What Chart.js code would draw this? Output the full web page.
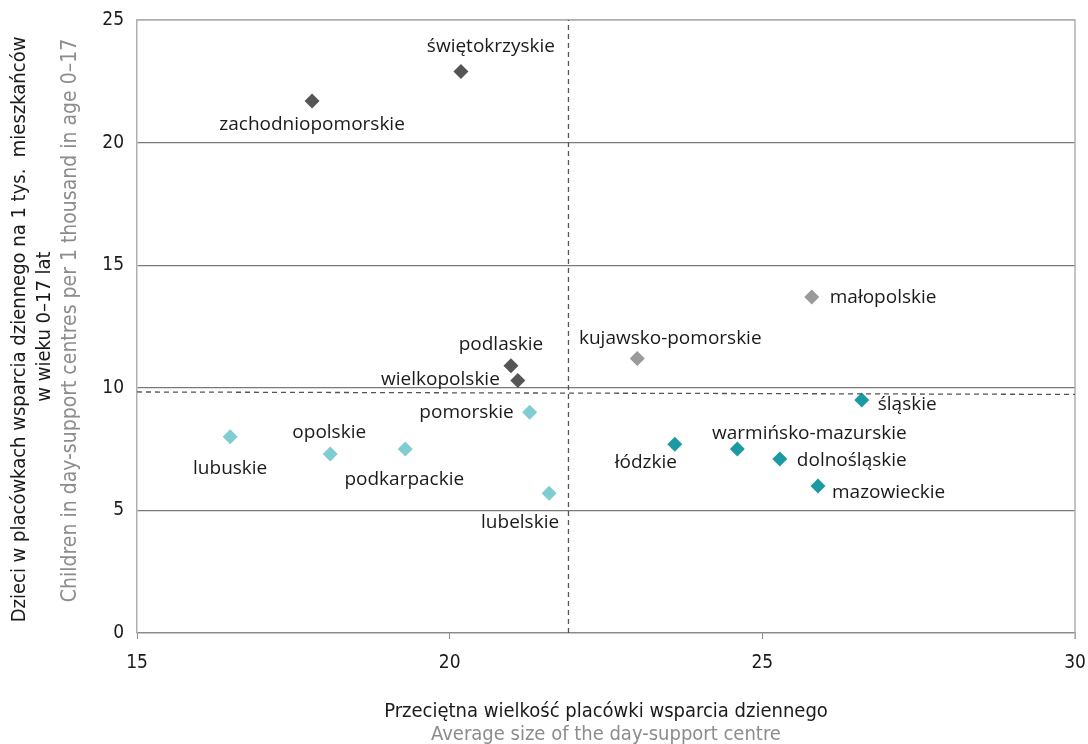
<!DOCTYPE html>
<html lang="pl">
<head>
    <meta charset="UTF-8">
    <title>Placówki wsparcia dziennego</title>
    <script src="https://cdn.jsdelivr.net/npm/chart.js@4.4.0/dist/chart.umd.min.js"></script>
    <style>
        body { margin: 0; background: #fff; }
        #wrap { width: 1088px; height: 744px; position: relative; }
    </style>
</head>
<body>
    <div id="wrap"><canvas id="chart"></canvas></div>

    <script>
        // Województwa i wartości
        const regions = ['świętokrzyskie', 'zachodniopomorskie', 'podlaskie', 'wielkopolskie',
            'małopolskie', 'kujawsko-pomorskie',
            'lubuskie', 'opolskie', 'podkarpackie', 'pomorskie', 'lubelskie',
            'śląskie', 'łódzkie', 'warmińsko-mazurskie', 'dolnośląskie', 'mazowieckie'];
        const avgSize = [20.18, 17.80, 20.98, 21.09,
            25.79, 23.00,
            16.49, 18.09, 19.29, 21.28, 21.59,
            26.59, 23.60, 24.60, 25.28, 25.89];
        const childrenPer1000 = [22.9, 21.7, 10.9, 10.3,
            13.7, 11.2,
            8.0, 7.3, 7.5, 9.0, 5.7,
            9.5, 7.7, 7.5, 7.1, 6.0];
        // grupa (kwadrant) każdego punktu
        const groups = [0, 0, 0, 0, 1, 1, 2, 2, 2, 2, 2, 3, 3, 3, 3, 3];
        const groupColors = ['#555555', '#9a9a9a', '#7fcdd2', '#1b9ba1'];

        // linie średnich
        const meanX = [21.9, 21.9];
        const meanXy = [0, 25];
        const meanYx = [15, 30];
        const meanY = [9.83, 9.73];

        const xTicks = [15, 20, 25, 30];
        const yTicks = [0, 5, 10, 15, 20, 25];

        // położenie etykiet względem punktu: [dx, dy, wyrównanie]
        const labelPlace = [
            [30, -25, 'center'], [0, 24, 'center'], [-10, -21, 'center'], [-18, -1, 'right'],
            [18, 1, 'left'], [33, -20, 'center'],
            [0, 32, 'center'], [-1, -21, 'center'], [-1, 30, 'center'], [-16, 0, 'right'], [-29, 29, 'center'],
            [16, 5, 'left'], [-29, 18, 'center'], [72, -16, 'center'], [17, 2, 'left'], [14, 7, 'left']
        ];

        const labelFont = '19px "Open Sans", "Noto Sans", sans-serif';
        const narrow = '"Liberation Sans Narrow", "DejaVu Sans Condensed", "Open Sans", sans-serif';

        const points = avgSize.map((x, i) => ({ x: x, y: childrenPer1000[i] }));

        const pointLabels = {
            id: 'pointLabels',
            afterDatasetsDraw(chart) {
                const ctx = chart.ctx;
                const meta = chart.getDatasetMeta(2);
                ctx.save();
                ctx.font = labelFont;
                ctx.fillStyle = '#1a1a1a';
                ctx.textBaseline = 'middle';
                meta.data.forEach((el, i) => {
                    const p = labelPlace[i];
                    ctx.textAlign = p[2];
                    ctx.fillText(regions[i], el.x + p[0], el.y + p[1]);
                });
                ctx.restore();
            }
        };

        const frameAndTitles = {
            id: 'frameAndTitles',
            beforeDatasetsDraw(chart) {
                const ctx = chart.ctx;
                const a = chart.chartArea;
                ctx.save();
                ctx.strokeStyle = '#b0b0b0';
                ctx.lineWidth = 1.5;
                ctx.beginPath();
                ctx.moveTo(a.left, a.top);
                ctx.lineTo(a.right, a.top);
                ctx.lineTo(a.right, a.bottom + 6);
                ctx.stroke();
                ctx.restore();
            },
            afterDraw(chart) {
                const ctx = chart.ctx;
                const a = chart.chartArea;
                const cx = (a.left + a.right) / 2;
                ctx.save();
                ctx.textAlign = 'center';
                ctx.textBaseline = 'middle';
                ctx.font = '20px ' + narrow;
                ctx.fillStyle = '#1a1a1a';
                ctx.fillText('Przeciętna wielkość placówki wsparcia dziennego', cx, 712);
                ctx.fillStyle = '#8c8c8c';
                ctx.fillText('Average size of the day-support centre', cx, 735);

                const cy = (a.top + a.bottom) / 2;
                ctx.translate(0, cy);
                ctx.rotate(-Math.PI / 2);
                ctx.fillStyle = '#1a1a1a';
                ctx.fillText('Dzieci w placówkach wsparcia dziennego na 1 tys.  mieszkańców', -3, 20);
                ctx.fillText('w wieku 0–17 lat', 0, 45);
                ctx.fillStyle = '#8c8c8c';
                ctx.font = '21px ' + narrow;
                ctx.fillText('Children in day-support centres per 1 thousand in age 0–17', 6, 71);
                ctx.restore();
            }
        };

        new Chart(document.getElementById('chart'), {
            type: 'scatter',
            data: {
                datasets: [
                    {
                        type: 'line',
                        data: meanXy.map((y, i) => ({ x: meanX[i], y: y })),
                        borderColor: '#555555',
                        borderWidth: 1.3,
                        borderDash: [5, 4],
                        pointRadius: 0,
                        fill: false
                    },
                    {
                        type: 'line',
                        data: meanYx.map((x, i) => ({ x: x, y: meanY[i] })),
                        borderColor: '#555555',
                        borderWidth: 1.3,
                        borderDash: [5, 4],
                        pointRadius: 0,
                        fill: false
                    },
                    {
                        data: points,
                        pointStyle: 'rectRot',
                        pointRadius: 7.5,
                        pointBorderWidth: 0,
                        pointBackgroundColor: groups.map(g => groupColors[g]),
                        pointBorderColor: groups.map(g => groupColors[g])
                    }
                ]
            },
            options: {
                responsive: true,
                maintainAspectRatio: false,
                animation: false,
                layout: { padding: { top: 20, right: 13, left: 0, bottom: 0 } },
                plugins: {
                    legend: { display: false },
                    tooltip: { enabled: false }
                },
                scales: {
                    x: {
                        type: 'linear',
                        min: 15,
                        max: 30,
                        afterBuildTicks: s => { s.ticks = xTicks.map(v => ({ value: v })); },
                        afterFit: s => {
                            s.height = 111;
                            s.paddingLeft = 0;
                            s.paddingRight = 0;
                        },
                        grid: {
                            drawOnChartArea: false,
                            drawTicks: true,
                            tickLength: 6,
                            color: '#8a8a8a'
                        },
                        border: { color: '#8a8a8a', width: 1.3 },
                        ticks: {
                            color: '#1a1a1a',
                            font: { family: narrow, size: 19 },
                            padding: 13,
                            maxRotation: 0
                        }
                    },
                    y: {
                        min: 0,
                        max: 25,
                        afterBuildTicks: s => { s.ticks = yTicks.map(v => ({ value: v })); },
                        afterFit: s => {
                            s.width = 137;
                            s.paddingTop = 0;
                            s.paddingBottom = 0;
                        },
                        grid: {
                            drawTicks: false,
                            color: ctx => (ctx.tick && ctx.tick.value === 25) ? '#b0b0b0' : '#7a7a7a',
                            lineWidth: 1.2
                        },
                        border: { color: '#b0b0b0', width: 1.5 },
                        ticks: {
                            color: '#1a1a1a',
                            font: { family: narrow, size: 19 },
                            padding: 13
                        }
                    }
                }
            },
            plugins: [frameAndTitles, pointLabels]
        });
    </script>
</body>
</html>
